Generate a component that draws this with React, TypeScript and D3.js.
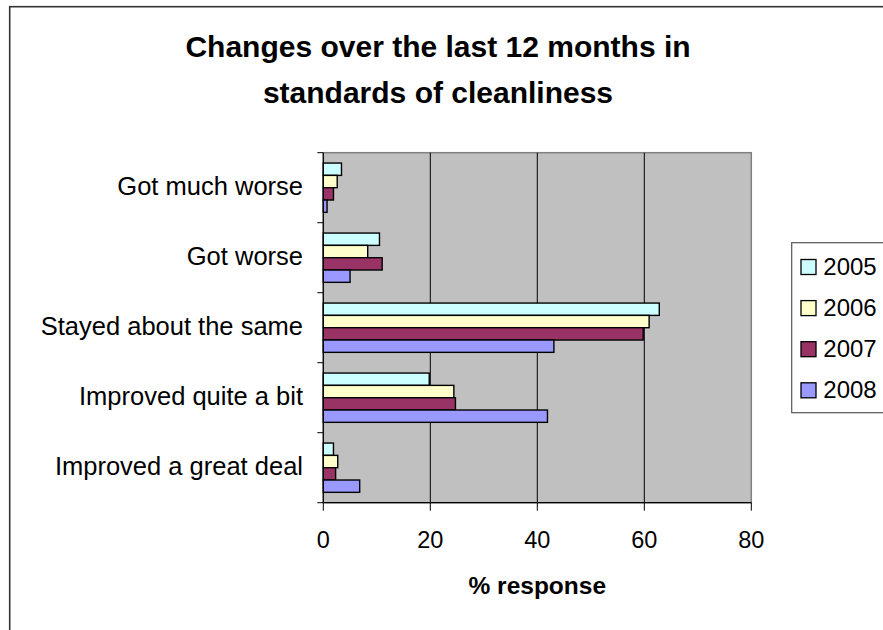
import React from "react";
import * as d3 from "d3";

const categories = [
  "Got much worse",
  "Got worse",
  "Stayed about the same",
  "Improved quite a bit",
  "Improved a great deal",
];
const years = ["2005", "2006", "2007", "2008"];
const v2005 = [3.4, 10.5, 62.8, 19.8, 1.9];
const v2006 = [2.6, 8.3, 60.9, 24.4, 2.7];
const v2007 = [1.9, 11.0, 59.8, 24.7, 2.3];
const v2008 = [0.7, 5.0, 43.1, 41.9, 6.8];
const seriesValues = [v2005, v2006, v2007, v2008];
const colors = ["#CCFFFF", "#FFFFCC", "#993366", "#9999FF"];
const xTicks = [0, 20, 40, 60, 80];
const titleLines = ["Changes over the last 12 months in", "standards of cleanliness"];
const xAxisTitle = "% response";

const W = 883;
const H = 630;
const FONT = "Arial, 'Liberation Sans', sans-serif";

export default function App() {
  const left = 323.3;
  const right = 751.3;
  const top = 152.7;
  const bottom = 502.7;

  const x = d3.scaleLinear().domain([0, 80]).range([left, right]);
  const y = d3
    .scaleBand<string>()
    .domain(categories)
    .range([top, bottom])
    .paddingInner(0.296)
    .paddingOuter(0.148);
  const yInner = d3.scaleBand<string>().domain(years).range([0, y.bandwidth()]).padding(0);

  return (
    <svg
      width={W}
      height={H}
      style={{ position: "absolute", left: 0, top: 0, display: "block", background: "#fff" }}
      fontFamily={FONT}
    >
      {/* chart border */}
      <rect x={9.7} y={6.7} width={W + 20} height={H + 20} fill="#fff" stroke="#333" strokeWidth={1.6} />

      {/* title */}
      {titleLines.map((t, i) => (
        <text
          key={t}
          x={438}
          y={57 + i * 46}
          textAnchor="middle"
          fontSize={30}
          fontWeight="bold"
          fill="#000"
        >
          {t}
        </text>
      ))}

      {/* plot area */}
      <rect x={left} y={top} width={right - left} height={bottom - top} fill="#C0C0C0" stroke="#808080" strokeWidth={1.5} />

      {/* gridlines */}
      {xTicks
        .filter((t) => t > 0 && t < 80)
        .map((t) => (
          <line key={t} x1={x(t)} x2={x(t)} y1={top} y2={bottom} stroke="#000" strokeWidth={1} />
        ))}

      {/* bars */}
      {categories.map((c, ci) => (
        <g key={c} transform={`translate(0,${y(c)})`}>
          {years.map((yr, si) => (
            <rect
              key={yr}
              x={x(0)}
              y={yInner(yr)}
              width={x(seriesValues[si][ci]) - x(0)}
              height={yInner.bandwidth()}
              fill={colors[si]}
              stroke="#000"
              strokeWidth={1.4}
            />
          ))}
        </g>
      ))}

      {/* axes */}
      <line x1={left} x2={left} y1={top} y2={bottom} stroke="#000" strokeWidth={1.2} />
      <line x1={left} x2={right} y1={bottom} y2={bottom} stroke="#000" strokeWidth={1.2} />
      {/* category ticks at band boundaries */}
      {[...categories.map((c) => (y(c) as number) - (y.step() - y.bandwidth()) / 2), bottom].map((v, i) => (
        <line key={i} x1={left - 6} x2={left} y1={v} y2={v} stroke="#000" strokeWidth={1} />
      ))}
      {/* category labels */}
      {categories.map((c) => (
        <text
          key={c}
          x={303}
          y={(y(c) as number) + y.bandwidth() / 2 + 7.5}
          textAnchor="end"
          fontSize={25.5}
          fill="#000"
        >
          {c}
        </text>
      ))}
      {/* x ticks */}
      {xTicks.map((t) => (
        <g key={t}>
          <line x1={x(t)} x2={x(t)} y1={bottom} y2={bottom + 8} stroke="#000" strokeWidth={1} />
          <text x={x(t)} y={548.3} textAnchor="middle" fontSize={23.5} fill="#000">
            {t}
          </text>
        </g>
      ))}
      <text x={(left + right) / 2} y={594} textAnchor="middle" fontSize={24.5} fontWeight="bold" fill="#000">
        {xAxisTitle}
      </text>

      {/* legend */}
      <rect x={791.7} y={242.7} width={120} height={170} fill="#fff" stroke="#555" strokeWidth={1.2} />
      {years.map((yr, i) => {
        const base = 275 + i * 41.1;
        return (
          <g key={yr}>
            <rect x={801} y={base - 15.5} width={15} height={15} fill={colors[i]} stroke="#000" strokeWidth={1.3} />
            <text x={823.3} y={base} fontSize={24} fill="#000">
              {yr}
            </text>
          </g>
        );
      })}
    </svg>
  );
}
